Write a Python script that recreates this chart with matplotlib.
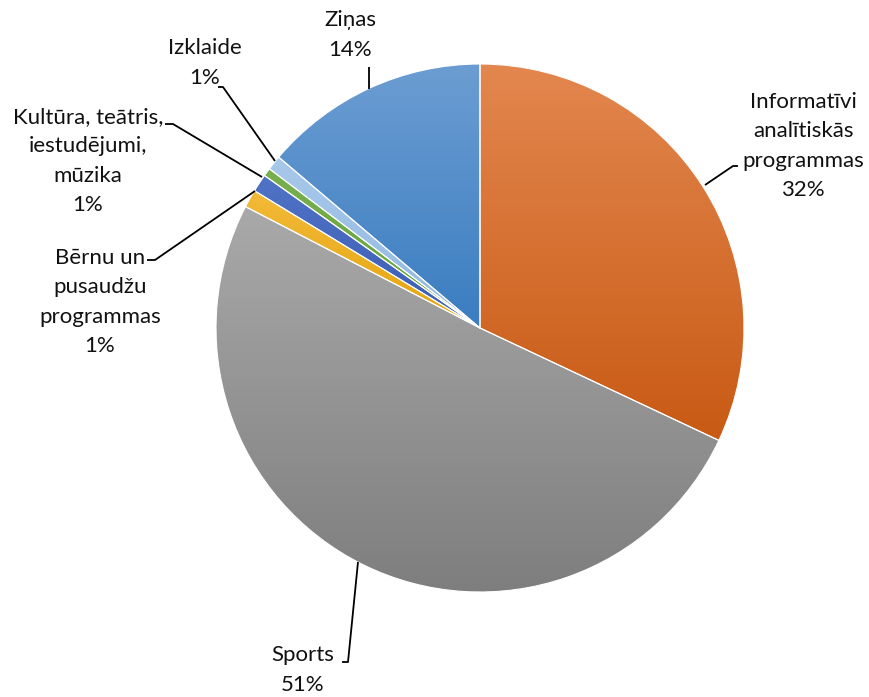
import matplotlib
matplotlib.use("Agg")
import matplotlib.pyplot as plt
from matplotlib.colors import LinearSegmentedColormap
import numpy as np

plt.rcParams['font.family'] = ['Lato', 'DejaVu Sans']

# slices, clockwise from 12 o'clock
categories = ['Informatīvi\nanalītiskās\nprogrammas', 'Sports',
              'Bērnu un\npusaudžu\nprogrammas',
              'Kultūra, teātris,\niestudējumi,\nmūzika',
              'Cits', 'Izklaide', 'Ziņas']
shares = [32.0, 50.6, 1.1, 1.1, 0.5, 0.9, 13.8]
show_label = [True, True, True, True, False, True, True]

# light (top) -> dark (bottom) gradient colours per slice
top_colors = ['#E3874F', '#A9A9A9', '#F2BA3A', '#5073C6', '#78B04E', '#A6C8EA', '#6C9DD2']
bot_colors = ['#C85A14', '#7E7E7E', '#E5A40A', '#3A5CB4', '#62A039', '#92B9E2', '#3A7DC1']

W, H = 869, 697
cx, cy, R = 480, 328, 264


def P(x, y):
    # pixel position (from top-left) -> data coords
    return x, H - y


# label text anchor and leader line points (pixels)
label_pos = [(803, 146), (303, 670), (100, 302), (88, 161), None, (205, 63), (350, 35)]
leaders = [
    [(705, 185), (733, 166), (738, 166)],
    [(358, 562), (348, 662), (342, 662)],
    [(255, 191), (155, 260), (147, 260)],
    [(262, 177), (173, 124), (165, 124)],
    None,
    [(275, 161), (223, 87), (218, 87)],
    [(369, 67), (369, 89)],
]

fig = plt.figure(figsize=(W / 100, H / 100), dpi=100)
ax = fig.add_axes([0, 0, 1, 1])

wedges, _ = ax.pie(shares, startangle=90, counterclock=False, radius=R,
                   center=P(cx, cy), wedgeprops=dict(edgecolor='white', linewidth=0.8))

grad = np.linspace(0, 1, 256).reshape(-1, 1)
for w, c0, c1 in zip(wedges, top_colors, bot_colors):
    w.set_facecolor('none')
    verts = w.get_path().vertices
    x0, y0 = verts.min(axis=0)
    x1, y1 = verts.max(axis=0)
    cmap = LinearSegmentedColormap.from_list('g', [c1, c0])
    im = ax.imshow(grad, cmap=cmap, extent=(x0, x1, y0, y1), origin='lower',
                   aspect='auto', zorder=1)
    im.set_clip_path(w)
    w.set_zorder(2)

for name, v, show, pos, pts in zip(categories, shares, show_label, label_pos, leaders):
    if not show:
        continue
    ax.text(*P(*pos), f"{name}\n{v:.0f}%", ha='center', va='center',
            fontsize=16, color='#111111', linespacing=1.58, zorder=4)
    xs, ys = zip(*[P(*p) for p in pts])
    ax.plot(xs, ys, color='black', lw=1.3, zorder=3, solid_capstyle='butt')

ax.set_xlim(0, W)
ax.set_ylim(0, H)
ax.set_aspect('equal')
ax.axis('off')

fig.savefig('out.png', dpi=100)
